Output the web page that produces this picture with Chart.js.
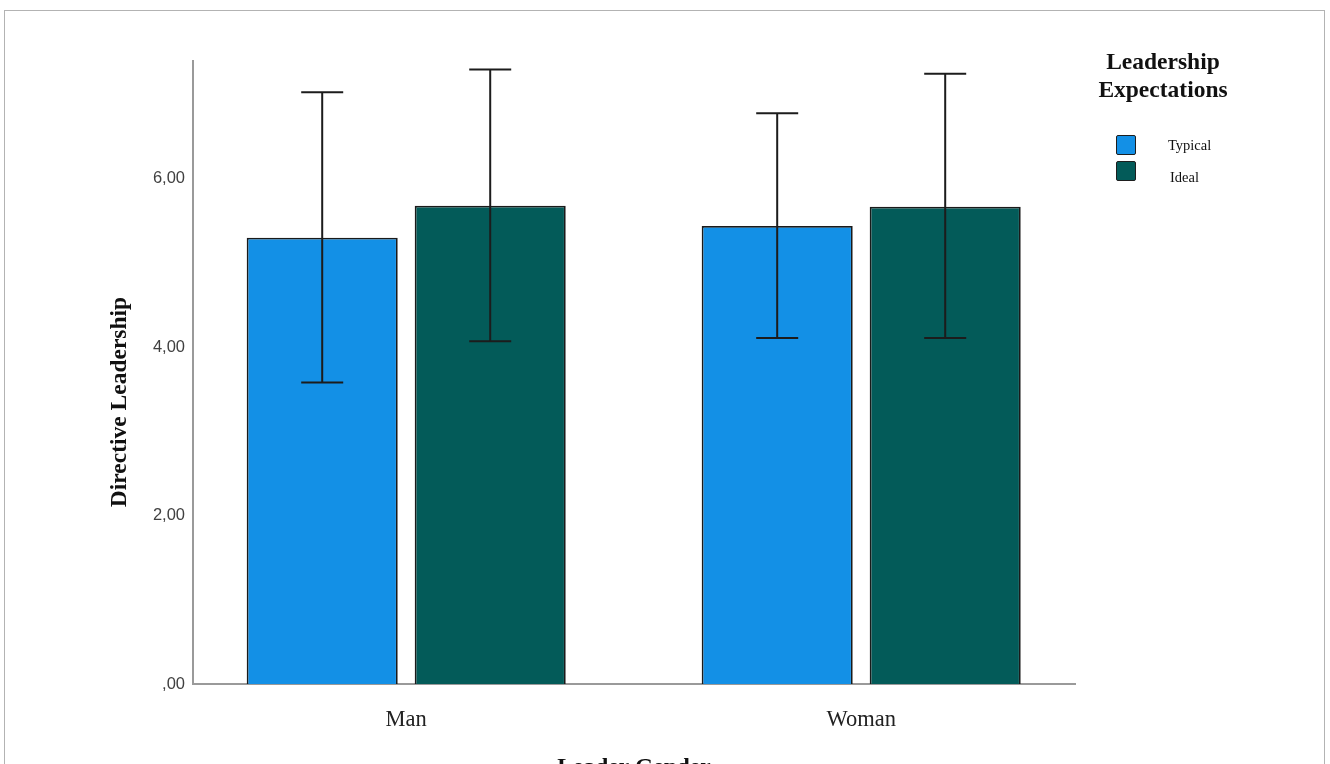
<!DOCTYPE html>
<html>
<head>
<meta charset="utf-8">
<script src="https://cdn.jsdelivr.net/npm/chart.js@4/dist/chart.umd.min.js"></script>
<style>
  html, body { margin: 0; padding: 0; background: #fff; overflow: hidden; }
  #wrap { position: relative; width: 1330px; height: 800px; }
  #frame { position: absolute; left: 4px; top: 10px; width: 1321px; height: 820px;
           border: 1.5px solid #b3b3b3; box-sizing: border-box; }
  #legend { position: absolute; left: 1063px; top: 47px; width: 200px;
            font-family: "Liberation Serif", "Times New Roman", serif; color: #111; }
  #legend .title { font-weight: bold; font-size: 23.5px; line-height: 28px; text-align: center; }
  #legend .item { position: absolute; left: 53px; height: 20px; }
  #legend .box { position: absolute; left: 0; top: 0; width: 20px; height: 20px;
                 box-sizing: border-box; border: 1.5px solid #1e1e1e; border-radius: 2px; }
  #legend .lbl { position: absolute; top: 0; line-height: 20px; font-size: 14.5px; white-space: nowrap; }
</style>
</head>
<body>
<div id="wrap">
  <canvas id="myChart" width="1330" height="800"></canvas>
  <div id="frame"></div>
  <div id="legend"></div>
</div>
<script>
const categories = ["Man", "Woman"];
const seriesLabels = ["Typical", "Ideal"];
const legendTitle = ["Leadership", "Expectations"];

// bar heights (means)
const typicalMeans = [5.30, 5.44];
const idealMeans = [5.68, 5.67];

// error bar ends
const typicalLow = [3.58, 4.11];
const typicalHigh = [7.03, 6.78];
const idealLow = [4.07, 4.11];
const idealHigh = [7.30, 7.25];

const yTicks = [0, 2, 4, 6];

const colors = ["#1390e6", "#035b59"];

const errorBars = {
  id: "errorBars",
  afterDatasetsDraw(chart) {
    const ctx = chart.ctx;
    const y = chart.scales.y;
    chart.data.datasets.forEach((ds, di) => {
      const meta = chart.getDatasetMeta(di);
      meta.data.forEach((bar, i) => {
        const top = y.getPixelForValue(ds.errHigh[i]);
        const bot = y.getPixelForValue(ds.errLow[i]);
        ctx.save();
        ctx.strokeStyle = "#1c1c1c";
        ctx.lineWidth = 2;
        ctx.beginPath();
        ctx.moveTo(bar.x, top);
        ctx.lineTo(bar.x, bot);
        ctx.moveTo(bar.x - 21, top);
        ctx.lineTo(bar.x + 21, top);
        ctx.moveTo(bar.x - 21, bot);
        ctx.lineTo(bar.x + 21, bot);
        ctx.stroke();
        ctx.restore();
      });
    });
  }
};

// y axis title, placed lower than the axis middle like the original
const yTitle = {
  id: "yTitle",
  afterDraw(chart) {
    const ctx = chart.ctx;
    ctx.save();
    ctx.translate(126, 402);
    ctx.rotate(-Math.PI / 2);
    ctx.font = "bold 23.5px 'Liberation Serif'";
    ctx.fillStyle = "#111";
    ctx.textAlign = "center";
    ctx.textBaseline = "alphabetic";
    ctx.fillText("Directive Leadership", 0, 0);
    ctx.restore();
  }
};

const ctx = document.getElementById("myChart");

const myChart = new Chart(ctx, {
  type: "bar",
  data: {
    datasets: [
      {
        label: seriesLabels[0],
        data: typicalMeans.map((v, i) => ({ x: i, y: v })),
        errLow: typicalLow,
        errHigh: typicalHigh,
        backgroundColor: colors[0],
        borderColor: "#1a1a1a",
        borderWidth: 1.8,
      },
      {
        label: seriesLabels[1],
        data: idealMeans.map((v, i) => ({ x: i, y: v })),
        errLow: idealLow,
        errHigh: idealHigh,
        backgroundColor: colors[1],
        borderColor: "#1a1a1a",
        borderWidth: 1.8,
      },
    ],
  },
  options: {
    responsive: false,
    animation: false,
    categoryPercentage: 0.7385,
    barPercentage: 0.899,
    layout: { padding: { top: 61, right: 255, left: 0, bottom: 0 } },
    plugins: {
      legend: { display: false },
      tooltip: { enabled: false },
    },
    scales: {
      x: {
        type: "linear",
        offset: false,
        min: -0.4686,
        max: 1.4699,
        grid: { display: false, drawTicks: false },
        border: { display: true, color: "#9a9a9a", width: 2 },
        afterBuildTicks: (scale) => {
          scale.ticks = categories.map((c, i) => ({ value: i }));
        },
        afterFit: (scale) => {
          scale.height = 116;
        },
        ticks: {
          padding: 23,
          color: "#222",
          font: { family: "Liberation Serif", size: 22.5 },
          callback: (v) => categories[v],
        },
        title: {
          display: true,
          text: "Leader Gender",
          color: "#111",
          font: { family: "Liberation Serif", size: 23.5, weight: "bold" },
          padding: { top: 0, bottom: 18 },
        },
      },
      y: {
        min: 0,
        max: 7.4,
        grid: { display: false, drawTicks: false },
        border: { display: true, color: "#9a9a9a", width: 2 },
        afterBuildTicks: (scale) => {
          scale.ticks = yTicks.map((v) => ({ value: v }));
        },
        afterFit: (scale) => {
          scale.width = 193;
        },
        ticks: {
          padding: 8,
          color: "#404040",
          font: { family: "Liberation Sans", size: 16.5 },
          callback: (v) => (v === 0 ? ",00" : v.toFixed(2).replace(".", ",")),
        },
      },
    },
  },
  plugins: [errorBars, yTitle],
});

// legend built from the datasets
const legend = document.getElementById("legend");
const t = document.createElement("div");
t.className = "title";
t.innerHTML = legendTitle.join("<br>");
legend.appendChild(t);
const itemTops = [88, 114];
const labelOffsets = [[52, 0], [54, 6]];
myChart.data.datasets.forEach((ds, i) => {
  const item = document.createElement("div");
  item.className = "item";
  item.style.top = itemTops[i] + "px";
  const box = document.createElement("div");
  box.className = "box";
  box.style.background = ds.backgroundColor;
  const lbl = document.createElement("div");
  lbl.className = "lbl";
  lbl.style.left = labelOffsets[i][0] + "px";
  lbl.style.top = labelOffsets[i][1] + "px";
  lbl.textContent = ds.label;
  item.appendChild(box);
  item.appendChild(lbl);
  legend.appendChild(item);
});
</script>
</body>
</html>
